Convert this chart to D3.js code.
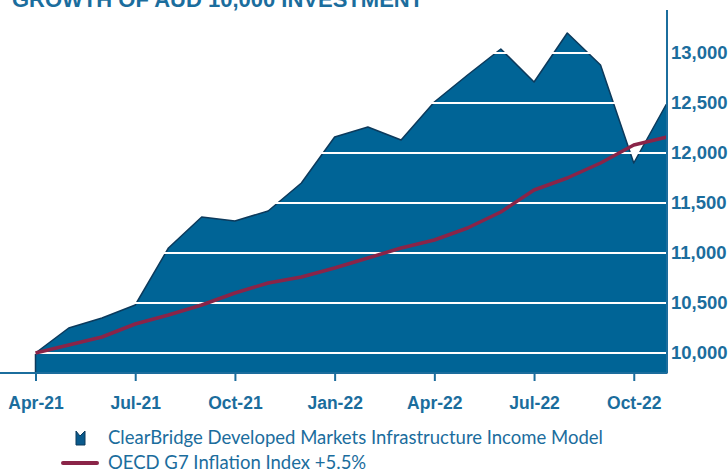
<!DOCTYPE html>
<html>
<head>
<meta charset="utf-8">
<script src="https://cdn.jsdelivr.net/npm/d3@7"></script>
<style>
  body { margin: 0; background: #fff; }
  svg { display: block; font-family: Lato, "Open Sans", sans-serif; }
</style>
</head>
<body>
<div id="chart"></div>
<script>
'use strict'

// Monthly values, Apr-21 .. Nov-22
const months = ['Apr-21','May-21','Jun-21','Jul-21','Aug-21','Sep-21','Oct-21','Nov-21','Dec-21',
    'Jan-22','Feb-22','Mar-22','Apr-22','May-22','Jun-22','Jul-22','Aug-22','Sep-22','Oct-22','Nov-22'];
const modelValues = [10000, 10250, 10350, 10480, 11050, 11360, 11320, 11420, 11700,
    12160, 12260, 12130, 12510, 12780, 13040, 12710, 13200, 12880, 11900, 12500];
const inflationValues = [10000, 10080, 10160, 10290, 10380, 10480, 10600, 10700, 10760,
    10850, 10950, 11050, 11130, 11250, 11410, 11630, 11750, 11900, 12080, 12160];
const yTicks = [10000, 10500, 11000, 11500, 12000, 12500, 13000];
const xTickLabels = ['Apr-21','Jul-21','Oct-21','Jan-22','Apr-22','Jul-22','Oct-22'];
const seriesNames = ['ClearBridge Developed Markets Infrastructure Income Model', 'OECD G7 Inflation Index +5.5%'];

const width = 728, height = 473;
const blue = '#006496', navy = '#0c3a5c', textBlue = '#1b6d9d', wine = '#8a2448';

const svg = d3.select('#chart').append('svg')
    .attr('width', width)
    .attr('height', height);

const x = d3.scaleLinear()
    .domain([0, months.length - 1])
    .range([35.5, 667]);

const y = d3.scaleLinear()
    .domain([9800, 13430])
    .range([373, 10]);

// Title (cut off at the top like the original)
svg.append('text')
    .attr('x', 12)
    .attr('y', 7)
    .attr('fill', textBlue)
    .style('font-family', '"Liberation Sans", Arial, sans-serif')
    .style('font-weight', 'bold')
    .style('font-size', '22px')
    .text('GROWTH OF AUD 10,000 INVESTMENT');

// Area
const area = d3.area()
    .x((d, i) => x(i))
    .y0(y(9800))
    .y1(d => y(d));

svg.append('path')
    .datum(modelValues)
    .attr('d', area)
    .attr('fill', blue)
    .attr('stroke', navy)
    .attr('stroke-width', 1.5)
    .attr('stroke-linejoin', 'round');

// Gridlines over the area
svg.append('g')
    .selectAll('line')
    .data(yTicks)
    .join('line')
    .attr('x1', 33)
    .attr('x2', 671)
    .attr('y1', d => y(d))
    .attr('y2', d => y(d))
    .attr('stroke', '#fff')
    .attr('stroke-width', 2);

// Inflation line
const line = d3.line()
    .x((d, i) => x(i))
    .y(d => y(d));

svg.append('path')
    .datum(inflationValues)
    .attr('d', line)
    .attr('fill', 'none')
    .attr('stroke', wine)
    .attr('stroke-width', 3.5)
    .attr('stroke-linejoin', 'round');

// Right axis
const yAxis = d3.axisRight(y)
    .tickValues(yTicks)
    .tickSize(4)
    .tickFormat(d3.format(','));

const gy = svg.append('g')
    .attr('transform', `translate(${x.range()[1]},0)`)
    .call(yAxis);

gy.select('.domain').remove();
gy.append('line')
    .attr('y1', 10).attr('y2', 373)
    .attr('stroke', textBlue)
    .attr('stroke-width', 2);
gy.selectAll('.tick line').attr('stroke', '#fff').attr('stroke-width', 2);
gy.selectAll('.tick text')
    .attr('x', 4)
    .attr('fill', textBlue)
    .style('font-size', '18.5px')
    .style('font-weight', 'bold');

// Bottom axis
const xAxis = d3.axisBottom(x)
    .tickValues(d3.range(0, months.length, 3))
    .tickSize(8)
    .tickFormat(i => xTickLabels[i / 3]);

const gx = svg.append('g')
    .attr('transform', `translate(0,${y(9800)})`)
    .call(xAxis);

gx.select('.domain').remove();
gx.append('line')
    .attr('x1', 0).attr('x2', x.range()[1])
    .attr('stroke', textBlue)
    .attr('stroke-width', 2);
gx.selectAll('.tick line').attr('stroke', textBlue).attr('stroke-width', 2);
gx.selectAll('.tick text')
    .attr('y', 24)
    .attr('fill', textBlue)
    .style('font-size', '17.5px')
    .style('font-weight', 'bold');

// Legend
const legend = svg.append('g');

legend.append('path')
    .attr('d', 'M76,431 L80,436 L85,431 L85,445 L76,445 Z')
    .attr('fill', '#0a5a8c')
    .attr('stroke', navy)
    .attr('stroke-width', 1);

legend.append('line')
    .attr('x1', 63).attr('x2', 97)
    .attr('y1', 463).attr('y2', 463)
    .attr('stroke', wine)
    .attr('stroke-width', 4)
    .attr('stroke-linecap', 'round');

legend.selectAll('text')
    .data(seriesNames)
    .join('text')
    .attr('x', 108)
    .attr('y', (d, i) => 444 + i * 25)
    .attr('fill', textBlue)
    .style('font-size', '18.5px')
    .text(d => d);
</script>
</body>
</html>
